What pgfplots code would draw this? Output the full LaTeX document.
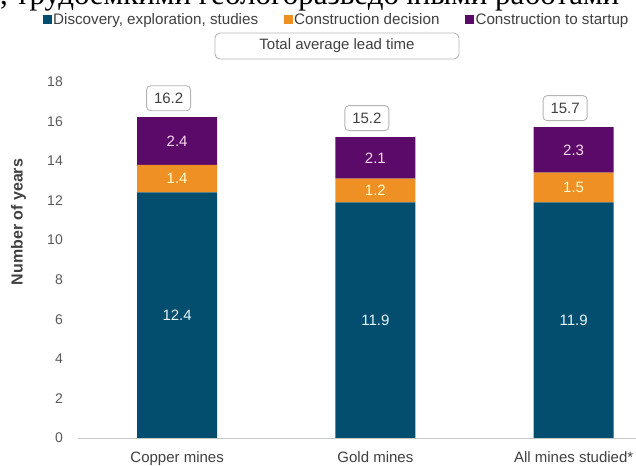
\documentclass[border=0pt]{standalone}
\usepackage{pgfplots}
\pgfplotsset{compat=1.18}
\usepackage{pgfplotstable}
\usepackage{fontspec}
\setmainfont{Liberation Sans}
\newfontfamily\cyrserif{Liberation Serif}
\definecolor{cblue}{HTML}{034E6E}
\definecolor{corange}{HTML}{EF9025}
\definecolor{cpurple}{HTML}{5B0A69}
\definecolor{txt}{HTML}{404040}
\definecolor{tickgray}{HTML}{595959}
\definecolor{boxgray}{HTML}{B4B4B4}

\pgfplotstableread{
x disc cons start total
0 12.4 1.4 2.4 16.2
1 11.9 1.2 2.1 15.2
2 11.9 1.5 2.3 15.7
}\data

\pgfplotsset{
  common/.style={
    at={(78pt,27pt)}, anchor=south west,
    scale only axis, width=594.75pt, height=356.4pt,
    xmin=-0.5, xmax=2.5, ymin=0, ymax=18,
    /pgf/number format/assume math mode=true,
  }
}

\begin{document}
\begin{tikzpicture}[x=1pt,y=1pt]
\useasboundingbox (0,0) rectangle (636,465);
\clip (0,0) rectangle (636,465);
\node[anchor=base west, inner sep=0pt, font=\cyrserif\fontsize{31}{33}\selectfont] at (0,460) {, трудоемкими геологоразведочными работами};
\node[draw=boxgray, line width=0.9pt, rounded corners=5pt, minimum width=244pt, minimum height=26pt, inner sep=0pt, text=txt, font=\fontsize{15}{18}\selectfont] at (337,419) {Total average lead time};
\begin{axis}[
  common,
  ybar stacked, bar width=80pt,
  axis x line*=bottom, axis y line*=left,
  x axis line style={draw=black!22, line width=0.9pt},
  y axis line style={draw=none},
  ytick={0,2,...,18},
  xtick={0,1,2},
  xticklabels={Copper mines, Gold mines, All mines studied*},
  major tick length=0pt, tick style={draw=none},
  yticklabel style={font=\fontsize{14}{16}\selectfont, text=tickgray, inner sep=0pt, xshift=-15pt},
  xticklabel style={font=\fontsize{15}{18}\selectfont, text=txt, inner sep=0pt, yshift=-13pt},
  ylabel={Number of years},
  every axis y label/.style={at={(axis description cs:-0.1,0.606)}, rotate=90, anchor=center, font=\bfseries\fontsize{16}{18}\selectfont, text=txt},
  legend columns=3,
  legend image code/.code={\fill[#1] (0pt,-4.5pt) rectangle (9pt,4.5pt);},
  legend style={at={(axis description cs:-0.0597,1.174)}, anchor=west, draw=none, fill=none, inner sep=0pt, font=\fontsize{15.2}{18}\selectfont, text=txt, nodes={inner sep=1.5pt}, /tikz/every even column/.append style={column sep=24pt}},
  nodes near coords={\pgfmathprintnumber[fixed,fixed zerofill,precision=1]{\pgfplotspointmeta}},
  point meta=explicit,
  every node near coord/.append style={anchor=center, font=\fontsize{15}{18}\selectfont},
]
\addplot[fill=cblue, draw=none, nodes near coords,
  every node near coord/.append style={text=white!90!cyan}]
  table[x=x, y=disc, meta=disc] {\data};
\addplot[fill=corange, draw=none, nodes near coords,
  every node near coord/.append style={text=white!80!yellow}]
  table[x=x, y=cons, meta=cons] {\data};
\addplot[fill=cpurple, draw=none, nodes near coords,
  every node near coord/.append style={text=white!85!magenta}]
  table[x=x, y=start, meta=start] {\data};
\legend{{Discovery, exploration, studies}, Construction decision, Construction to startup}
\end{axis}
\begin{axis}[
  common, hide axis,
  nodes near coords={\pgfmathprintnumber[fixed,fixed zerofill,precision=1]{\pgfplotspointmeta}},
  point meta=explicit,
]
\addplot[only marks, mark=*, mark size=0pt, mark options={draw=none, fill=none}, nodes near coords,
  every node near coord/.append style={anchor=south, draw=boxgray, fill=white, line width=0.9pt, rounded corners=4pt, minimum width=44pt, minimum height=25pt, inner sep=0pt, xshift=-8.5pt, yshift=6pt, text=txt, font=\fontsize{15}{18}\selectfont}]
  table[x=x, y=total, meta=total] {\data};
\end{axis}
\end{tikzpicture}
\end{document}
